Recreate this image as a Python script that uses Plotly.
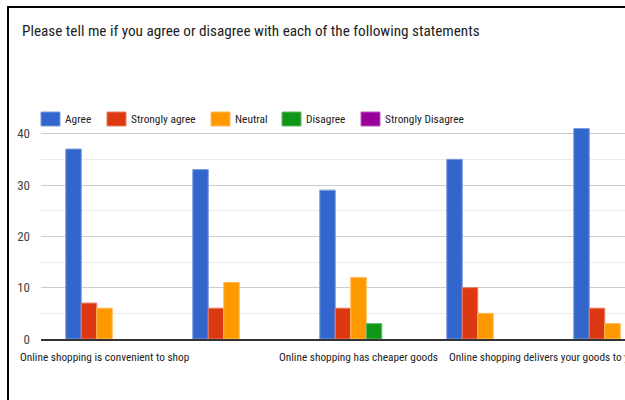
import plotly.graph_objects as go

# ---- data ----
statements = [
    "Online shopping is convenient to shop",
    "Online shopping saves time and effort",
    "Online shopping has cheaper goods",
    "Online shopping delivers your goods to your doorstep",
    "Online shopping offers a wider variety of products",
]
series_names = ["Agree", "Strongly agree", "Neutral", "Disagree", "Strongly Disagree"]
agree = [37, 33, 29, 35, 41]
strongly_agree = [7, 6, 6, 10, 6]
neutral = [6, 11, 12, 5, 3]
disagree = [0, 0, 3, 0, 0]
strongly_disagree = [0, 0, 0, 0, 0]
y_ticks = [0, 10, 20, 30, 40]
title_text = "Please tell me if you agree or disagree with each of the following statements"
shown_labels = [0, 2, 3]  # category labels visible on the axis

# ---- styling ----
colors = ["#3366cc", "#dc3912", "#ff9900", "#109618", "#990099"]
FONT = "Roboto Condensed, Roboto, Arimo, sans-serif"
W, H = 625, 400
ML, MR, MT, MB = 41, 0, 108, 61
PW = W - ML - MR
PH = H - MT - MB
CAT_PX = 127.0
BARGAP = 0.39


def lighten(hexc, f=0.35):
    r, g, b = (int(hexc[i:i + 2], 16) for i in (1, 3, 5))
    r, g, b = (int(c + (255 - c) * f) for c in (r, g, b))
    return f"rgb({r},{g},{b})"


def px_x(px):
    return (px - ML) / PW


def px_y(py):
    return (H - MB - py) / PH


values = [agree, strongly_agree, neutral, disagree, strongly_disagree]

fig = go.Figure()
for name, vals, col in zip(series_names, values, colors):
    fig.add_trace(go.Bar(
        x=list(range(len(statements))), y=vals, name=name,
        marker=dict(color=col, line=dict(color=lighten(col),
                                         width=[1 if v > 0 else 0 for v in vals])),
        hovertext=statements, showlegend=False,
    ))

x_end = -0.5 + PW / CAT_PX

fig.update_layout(
    width=W, height=H,
    margin=dict(l=ML, r=MR, t=MT, b=MB, pad=0),
    paper_bgcolor="white", plot_bgcolor="white",
    barmode="group", bargap=BARGAP, bargroupgap=0,
    font=dict(family=FONT, color="#444"),
    title=dict(text=title_text, x=22 / W, xanchor="left",
               xref="container", yref="container", y=1 - 31 / H, yanchor="middle",
               font=dict(family=FONT, size=15.2, color="#222")),
    xaxis=dict(range=[-0.5, x_end], showticklabels=False, showgrid=False,
               ticks="", showline=True, linecolor="#333", linewidth=2, zeroline=False,
               fixedrange=True),
    yaxis=dict(range=[0, 45], tickvals=y_ticks, ticks="", showline=False,
               gridcolor="#cccccc", gridwidth=1, zeroline=False,
               ticklabelstandoff=10,
               tickfont=dict(family=FONT, size=13, color="#444"),
               minor=dict(dtick=5, tick0=0, showgrid=True, gridcolor="#ebebeb", gridwidth=1),
               fixedrange=True),
)

# category labels
half_group = (1 - BARGAP) / 2
for i in shown_labels:
    left = (i == 3)
    fig.add_annotation(x=(i - half_group) if left else i, y=0, xref="x", yref="y",
                       text=statements[i], showarrow=False,
                       xanchor="left" if left else "center", yanchor="middle", yshift=-18,
                       font=dict(family=FONT, size=11.3, color="#222"))

# manual legend
legend_px = [41, 107, 211, 282, 361]
sw_w, sw_top, sw_bot = 19, 112, 126
for name, col, lx in zip(series_names, colors, legend_px):
    fig.add_shape(type="rect", xref="paper", yref="paper",
                  x0=px_x(lx), x1=px_x(lx + sw_w), y0=px_y(sw_bot), y1=px_y(sw_top),
                  fillcolor=col, line=dict(color=lighten(col), width=1))
    fig.add_annotation(xref="paper", yref="paper", x=px_x(lx + sw_w + 3), y=px_y(119),
                       text=name, showarrow=False, xanchor="left", yanchor="middle",
                       font=dict(family=FONT, size=11.4, color="#222"))

# frame (screenshot border)
fig.add_shape(type="line", xref="paper", yref="paper", layer="above",
              x0=px_x(8), x1=px_x(8), y0=px_y(6), y1=px_y(400),
              line=dict(color="#000", width=2))
fig.add_shape(type="line", xref="paper", yref="paper", layer="above",
              x0=px_x(7), x1=px_x(625), y0=px_y(7), y1=px_y(7),
              line=dict(color="#000", width=2))

fig.write_html("out.html")
